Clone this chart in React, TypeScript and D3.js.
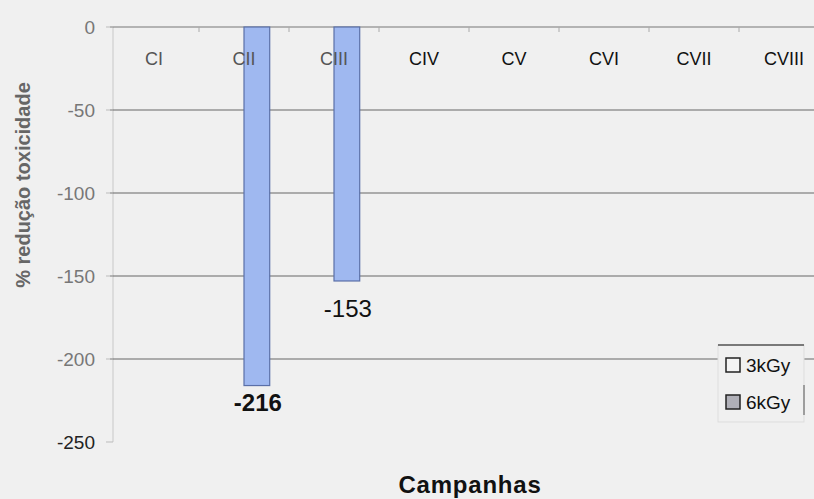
import React from "react";
import * as d3 from "d3";

const categories = ["CI", "CII", "CIII", "CIV", "CV", "CVI", "CVII", "CVIII"];
const seriesNames = ["3kGy", "6kGy"];
const values3kGy = [0, 0, 0, 0, 0, 0, 0, 0];
const values6kGy = [0, -216, -153, 0, 0, 0, 0, 0];
const yTicks = [0, -50, -100, -150, -200, -250];
const gridTicks = [0, -50, -100, -150, -200];

const W = 814;
const H = 499;

export default function App() {
  const x0 = d3.scaleBand<string>().domain(categories).range([109, 829]).paddingInner(0).paddingOuter(0);
  const x1 = d3.scaleBand<string>().domain(seriesNames).range([0, x0.bandwidth()]).paddingInner(0).paddingOuter(0.75);
  const y = d3.scaleLinear().domain([-250, 0]).range([442, 27]);
  const seriesValues: Record<string, number[]> = { "3kGy": values3kGy, "6kGy": values6kGy };
  const font = "'Liberation Sans', Arial, sans-serif";
  const labelGap = (v: number) => (v < -200 ? 25 : 36);

  return (
    <svg width={W} height={H} style={{ position: "absolute", left: 0, top: 0, background: "#f0f0f0" }} fontFamily={font}>
      <rect x={0} y={0} width={W} height={H} fill="#f0f0f0" />
      {/* left axis line */}
      <line x1={113} x2={113} y1={y(0)} y2={y(-250)} stroke="#c8c8c8" strokeWidth={1} />
      {/* gridlines */}
      {gridTicks.map((t) => (
        <line key={t} x1={110} x2={W} y1={y(t)} y2={y(t)} stroke={t === 0 ? "#777" : "#666"} strokeWidth={1.2} />
      ))}
      {/* y ticks */}
      {yTicks.map((t) => (
        <g key={t}>
          <line x1={106} x2={113} y1={y(t)} y2={y(t)} stroke="#bbb" />
          <text x={95} y={y(t)} dy="0.35em" textAnchor="end" fontSize={19} fill={t === -250 ? "#222" : "#777"}>
            {t}
          </text>
        </g>
      ))}
      {/* category tick marks at top */}
      {categories.slice(1).map((c) => (
        <line key={c} x1={x0(c)!} x2={x0(c)!} y1={y(0)} y2={y(0) + 5} stroke="#aaa" />
      ))}
      {/* bars */}
      {categories.map((c, i) =>
        seriesNames.map((s) => {
          const v = seriesValues[s][i];
          if (v === 0) return null;
          const bx = x0(c)! + x1(s)!;
          return (
            <rect key={c + s} x={bx} y={y(0)} width={x1.bandwidth()} height={y(v) - y(0)} fill="#9fb8f0" stroke="#5a6fa8" strokeWidth={1.2} />
          );
        })
      )}
      {/* category labels */}
      {categories.map((c, i) => (
        <text key={c} x={x0(c)! + x0.bandwidth() / 2} y={65} textAnchor="middle" fontSize={18} fill={i < 3 ? "#555" : "#111"}>
          {c}
        </text>
      ))}
      {/* value labels */}
      {categories.map((c, i) => {
        const v = values6kGy[i];
        if (v === 0) return null;
        const bx = x0(c)! + x1("6kGy")! + x1.bandwidth() / 2;
        return (
          <text key={"l" + c} x={bx + 1} y={y(v) + labelGap(v)} textAnchor="middle" fontSize={24} fontWeight={v < -200 ? "bold" : "normal"} fill="#111">
            {v}
          </text>
        );
      })}
      {/* axis titles */}
      <text transform={`translate(30,185) rotate(-90)`} textAnchor="middle" fontSize={20} fontWeight="bold" fill="#666">
        % redução toxicidade
      </text>
      <text x={470} y={493} textAnchor="middle" fontSize={24} fontWeight="bold" letterSpacing={0.8} fill="#111">
        Campanhas
      </text>
      {/* legend */}
      <g>
        <rect x={718} y={345} width={86} height={77} fill="#f0f0f0" stroke="#ddd" />
        <line x1={718} x2={804} y1={345} y2={345} stroke="#555" strokeWidth={1.5} />
        <line x1={804} x2={804} y1={385} y2={415} stroke="#555" strokeWidth={1} />
        {seriesNames.map((s, i) => (
          <g key={s} transform={`translate(726,${358 + i * 37})`}>
            <rect x={0} y={0} width={14} height={14} fill={i === 0 ? "#f4f4f4" : "#b0b0b8"} stroke="#222" strokeWidth={1.5} />
            <text x={20} y={14} fontSize={19} fill="#111">
              {s}
            </text>
          </g>
        ))}
      </g>
    </svg>
  );
}
